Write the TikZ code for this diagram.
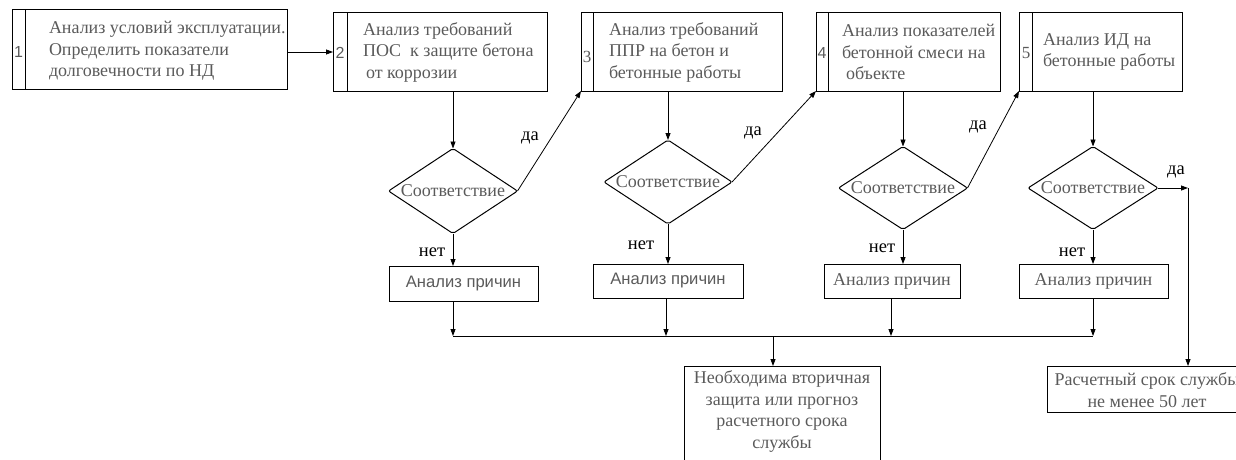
\documentclass[tikz,border=0pt]{standalone}
\usepackage{fontspec}
\setmainfont{Liberation Serif}
\setsansfont{Liberation Sans}
\usetikzlibrary{arrows.meta,shapes.geometric}
\definecolor{txt}{HTML}{5A5A5A}
\begin{document}
\begin{tikzpicture}[x=1pt,y=-1pt,
  every node/.style={inner sep=0pt,outer sep=0pt},
  numbox/.style={draw,line width=1pt,rectangle,anchor=north west},
  btext/.style={anchor=west,align=left,text=txt,font=\fontsize{18}{21.5}\selectfont},
  ctext/.style={align=center,text=txt,font=\fontsize{18}{21.5}\selectfont},
  stext/.style={align=center,text=txt,font=\sffamily\fontsize{16.6}{19}\selectfont},
  numlab/.style={text=txt,font=\fontsize{17}{19}\selectfont},
  snumlab/.style={text=txt,font=\sffamily\fontsize{16}{18}\selectfont},
  dec/.style={draw,line width=1pt,diamond,rounded corners=2pt},
  cause/.style={draw,line width=1pt,rectangle,anchor=north west},
  lab/.style={text=black,font=\fontsize{18.5}{20}\selectfont},
  conn/.style={line width=0.8pt},
  arr/.style={conn,-{Triangle[length=7pt,width=5pt]}}
]
\useasboundingbox (0,0) rectangle (1236,459);
\clip (0,0) rectangle (1236,459);

% ---- numbered boxes
\node[numbox,minimum width=275pt,minimum height=80pt] (b1) at (12,9) {};
\node[numbox,minimum width=214pt,minimum height=79pt] (b2) at (333,12) {};
\node[numbox,minimum width=201pt,minimum height=79pt] (b3) at (581,12) {};
\node[numbox,minimum width=184pt,minimum height=79pt] (b4) at (816,12) {};
\node[numbox,minimum width=163pt,minimum height=79pt] (b5) at (1019,12) {};

\draw[line width=1pt] ([xshift=13pt]b1.north west) -- ([xshift=13pt]b1.south west);
\draw[line width=1pt] ([xshift=14pt]b2.north west) -- ([xshift=14pt]b2.south west);
\draw[line width=1pt] ([xshift=12pt]b3.north west) -- ([xshift=12pt]b3.south west);
\draw[line width=1pt] ([xshift=12pt]b4.north west) -- ([xshift=12pt]b4.south west);
\draw[line width=1pt] ([xshift=13pt]b5.north west) -- ([xshift=13pt]b5.south west);

\node[snumlab] (n1) at (18.5,52) {1};
\node[snumlab] (n2) at (340,53) {2};
\node[numlab] (n3) at (587,57) {3};
\node[snumlab] (n4) at (822,53) {4};
\node[numlab] (n5) at (1026,53) {5};

\node[btext] (t1) at (49,51) {Анализ условий эксплуатации.\\Определить показатели\\долговечности по НД};
\node[btext] (t2) at (363,52) {Анализ требований\\ПОС\ \ к защите бетона\\\hspace{3pt}от коррозии};
\node[btext] (t3) at (609,52) {Анализ требований\\ППР на бетон и\\бетонные работы};
\node[btext] (t4) at (842,52) {Анализ показателей\\бетонной смеси на\\\hspace{4pt}объекте};
\node[btext] (t5) at (1043,52) {Анализ ИД на\\бетонные работы};

% ---- decisions
\node[dec,minimum width=129pt,minimum height=85pt,label={[ctext]center:Соответствие}] (d1) at (453,191) {};
\node[dec,minimum width=128pt,minimum height=84pt,label={[ctext]center:Соответствие}] (d2) at (668,182) {};
\node[dec,minimum width=129pt,minimum height=83pt,label={[ctext]center:Соответствие}] (d3) at (903,188) {};
\node[dec,minimum width=130pt,minimum height=83pt,label={[ctext]center:Соответствие}] (d4) at (1093,188) {};

% ---- cause boxes
\node[cause,minimum width=149pt,minimum height=35pt] (c1) at (389,266) {};
\node[cause,minimum width=150pt,minimum height=34pt] (c2) at (593,264) {};
\node[cause,minimum width=136pt,minimum height=34pt] (c3) at (824,264) {};
\node[cause,minimum width=149pt,minimum height=34pt] (c4) at (1019,264) {};
\node[stext] (ct1) at (c1.center) {Анализ причин};
\node[stext] (ct2) at (c2.center) {Анализ причин};
\node[ctext] (ct3) at (c3.center) {Анализ причин};
\node[ctext] (ct4) at (c4.center) {Анализ причин};

% ---- result boxes
\node[draw,line width=1pt,rectangle,anchor=north west,minimum width=196pt,minimum height=100pt] (rn) at (684,366) {};
\node[ctext,anchor=north] (rnt) at (782,371) {Необходима вторичная\\защита или прогноз\\расчетного срока\\службы};
\node[draw,line width=1pt,rectangle,anchor=north west,minimum width=200pt,minimum height=46pt] (rr) at (1047,366) {};
\node[ctext] (rrt) at (1147,390) {Расчетный срок службы\\не менее 50 лет};

% ---- connectors
\draw[arr] (b1.east |- 0,52) -- (b2.west |- 0,52);

\draw[arr] (b2.south -| d1.north) -- (d1.north);
\draw[arr] (b3.south -| d2.north) -- (d2.north);
\draw[arr] (b4.south -| d3.north) -- (d3.north);
\draw[arr] (b5.south -| d4.north) -- (d4.north);

\draw[arr] (d1.east) -- (b3.south west);
\draw[arr] (d2.east) -- (b4.south west);
\draw[arr] (d3.east) -- (b5.south west);
\coordinate (j) at (1188,188);
\draw[arr] (d4.east) -- (j);
\draw[arr] (j) -- (j |- rr.north);

\draw[arr] (d1.south) -- (c1.north -| d1.south);
\draw[arr] (d2.south) -- (c2.north -| d2.south);
\draw[arr] (d3.south) -- (c3.north -| d3.south);
\draw[arr] (d4.south) -- (c4.north -| d4.south);

\coordinate (busL) at (453,336);
\coordinate (busR) at (1093,336);
\draw[arr] (c1.south -| busL) -- (busL);
\draw[arr] (c2.south -| 666,0) -- (666,336);
\draw[arr] (c3.south -| 891,0) -- (891,336);
\draw[arr] (c4.south -| busR) -- (busR);
\draw[conn] (busL) -- (busR);
\draw[arr] (773,336) -- (rn.north -| 773,0);

% ---- labels
\node[lab] (y1) at (530,138) {да};
\node[lab] (y2) at (753,133) {да};
\node[lab] (y3) at (978,127) {да};
\node[lab] (y4) at (1176,172) {да};
\node[lab] (m1) at (432,252) {нет};
\node[lab] (m2) at (641,245) {нет};
\node[lab] (m3) at (882,248) {нет};
\node[lab] (m4) at (1072,252) {нет};
\end{tikzpicture}
\end{document}
